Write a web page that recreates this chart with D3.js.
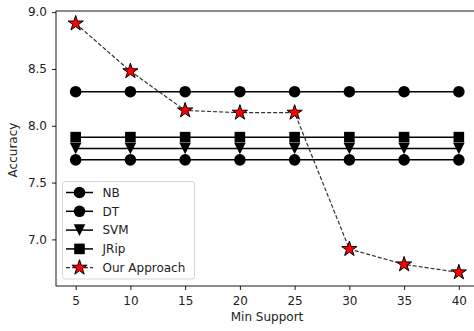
<!DOCTYPE html>
<html>
<head>
<meta charset="utf-8">
<script src="https://cdn.jsdelivr.net/npm/d3@7"></script>
<style>
  body { margin: 0; background: #fff; }
  svg { font-family: "DejaVu Sans", sans-serif; }
</style>
</head>
<body>
<svg id="svg01" width="474" height="331"></svg>
<script>
// data
const minSupport = [5, 10, 15, 20, 25, 30, 35, 40]
const nb   = [8.3, 8.3, 8.3, 8.3, 8.3, 8.3, 8.3, 8.3]
const dt   = [7.7, 7.7, 7.7, 7.7, 7.7, 7.7, 7.7, 7.7]
const svm  = [7.8, 7.8, 7.8, 7.8, 7.8, 7.8, 7.8, 7.8]
const jrip = [7.9, 7.9, 7.9, 7.9, 7.9, 7.9, 7.9, 7.9]
const ours = [8.9, 8.48, 8.135, 8.115, 8.115, 6.915, 6.78, 6.71]
const xTicks = [5, 10, 15, 20, 25, 30, 35, 40]
const yTicks = [7.0, 7.5, 8.0, 8.5, 9.0]

const svg = d3.select("#svg01")
const width = 474, height = 331
const fs = 12
margin = {top: 11, right: -4, bottom: 45, left: 56}

x = d3.scaleLinear()
    .domain([3.25, 41.75])
    .range([margin.left + 0.5, width - margin.right])

y = d3.scaleLinear()
    .domain([6.59, 9.01])
    .range([height - margin.bottom, margin.top])

const series = [
    {name: "NB",  values: nb,   marker: "circle"},
    {name: "DT",  values: dt,   marker: "circle"},
    {name: "SVM", values: svm,  marker: "tri"},
    {name: "JRip", values: jrip, marker: "square"},
    {name: "Our Approach", values: ours, marker: "star"}
]

// marker shapes
function drawMarker(g, type, cx, cy) {
    if (type == "circle") {
        g.append("circle").attr("cx", cx).attr("cy", cy).attr("r", 5.8).attr("fill", "#000")
    } else if (type == "square") {
        g.append("rect").attr("x", cx - 5.3).attr("y", cy - 5.3)
            .attr("width", 10.6).attr("height", 10.6).attr("fill", "#000")
    } else if (type == "tri") {
        g.append("path")
            .attr("d", `M${cx - 5.8},${cy - 5.8}L${cx + 5.8},${cy - 5.8}L${cx},${cy + 5.8}Z`)
            .attr("fill", "#000")
    } else {
        g.append("path")
            .attr("d", d3.symbol(d3.symbolStar, 72)())
            .attr("transform", `translate(${cx},${cy})`)
            .attr("fill", "#ff0000").attr("stroke", "#000").attr("stroke-width", 1)
    }
}

const g_ = svg.append("g")

// axes
const xAxis = g => g
    .attr("transform", `translate(0,${height - margin.bottom})`)
    .call(d3.axisBottom(x).tickValues(xTicks).tickSize(4).tickPadding(6).tickSizeOuter(0))
const yAxis = g => g
    .attr("transform", `translate(${margin.left},0)`)
    .call(d3.axisLeft(y).tickValues(yTicks).tickFormat(d3.format(".1f")).tickSize(4).tickPadding(5).tickSizeOuter(0))

const line = d3.line()
    .x((d, i) => x(minSupport[i]))
    .y(d => y(d))

series.forEach(s => {
    const sg = g_.append("g")
    sg.append("path")
        .attr("d", line(s.values))
        .attr("fill", "none")
        .attr("stroke", s.marker == "star" ? "#333" : "#000")
        .attr("stroke-width", s.marker == "star" ? 1.2 : 1.5)
        .attr("stroke-dasharray", s.marker == "star" ? "4,2" : null)
    s.values.forEach((v, i) => drawMarker(sg, s.marker, x(minSupport[i]), y(v)))
})

// frame
g_.append("rect")
    .attr("x", margin.left).attr("y", margin.top)
    .attr("width", width - margin.right - margin.left)
    .attr("height", height - margin.bottom - margin.top)
    .attr("fill", "none").attr("stroke", "#000").attr("stroke-width", 0.9)

const ax = g_.append("g").call(xAxis)
const ay = g_.append("g").call(yAxis)
;[ax, ay].forEach(a => {
    a.selectAll("text").attr("font-size", fs).attr("fill", "#222")
        .attr("font-family", "DejaVu Sans, sans-serif")
    a.select(".domain").remove()
    a.selectAll(".tick line").attr("stroke", "#000").attr("stroke-width", 0.9)
})

// axis labels
g_.append("text").attr("x", 267).attr("y", 321)
    .attr("text-anchor", "middle").attr("font-size", fs).attr("fill", "#222")
    .text("Min Support")
g_.append("text").attr("transform", "translate(17,150) rotate(-90)")
    .attr("text-anchor", "middle").attr("font-size", fs).attr("fill", "#222")
    .text("Accuracy")

// legend
const lg = g_.append("g")
lg.append("rect")
    .attr("x", 62.5).attr("y", 181.5).attr("width", 132).attr("height", 97.5)
    .attr("rx", 2.5).attr("fill", "#fff").attr("fill-opacity", 0.8)
    .attr("stroke", "#d6d6d6").attr("stroke-width", 1)
series.forEach((s, i) => {
    const cy = 192.5 + i * 18.8
    lg.append("line")
        .attr("x1", 66).attr("x2", 93).attr("y1", cy).attr("y2", cy)
        .attr("stroke", s.marker == "star" ? "#333" : "#000")
        .attr("stroke-width", s.marker == "star" ? 1.2 : 1.5)
        .attr("stroke-dasharray", s.marker == "star" ? "4,2" : null)
    drawMarker(lg, s.marker, 79.5, cy)
    lg.append("text").attr("x", 102.5).attr("y", cy).attr("dy", "0.36em")
        .attr("font-size", fs).attr("fill", "#222").text(s.name)
})
</script>
</body>
</html>
